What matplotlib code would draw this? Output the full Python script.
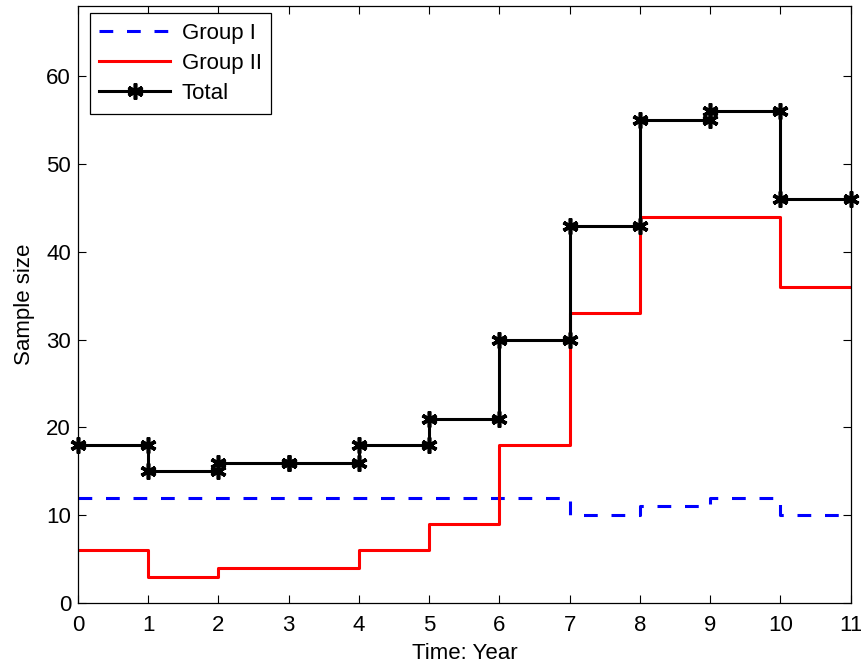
import matplotlib
matplotlib.use('Agg')
import matplotlib.pyplot as plt
import numpy as np

plt.rcParams['font.family'] = ['Liberation Sans', 'DejaVu Sans']

# Datos por año (intervalo [t, t+1])
years = list(range(0, 12))
group1 = [12, 12, 12, 12, 12, 12, 12, 10, 11, 12, 10]
group2 = [6, 3, 4, 4, 6, 9, 18, 33, 44, 44, 36]
total = [a + b for a, b in zip(group1, group2)]


def step_xy(edges, vals):
    xs = np.repeat(edges, 2)[1:-1]
    ys = np.repeat(vals, 2)
    return xs, ys


fig = plt.figure(figsize=(8.61, 6.64), dpi=100)
ax = fig.add_axes([0.0906, 0.0919, 0.8974, 0.899])

x1, y1 = step_xy(years, group1)
x2, y2 = step_xy(years, group2)
xt, yt = step_xy(years, total)

ax.plot(x1, y1, color='#0000ff', lw=2.2, ls=(0, (4.5, 4.5)), label='Group I')
ax.plot(x2, y2, color='#ff0000', lw=2.2, label='Group II')
ax.plot(xt, yt, color='black', lw=2.2, marker=(6, 2, 0), ms=11.5, mew=2.6,
        label='Total', clip_on=False)

ax.set_xlim(0, 11)
ax.set_ylim(0, 68)
ax.set_xticks(range(0, 12))
ax.set_yticks(range(0, 61, 10))
ax.tick_params(direction='in', top=True, right=True, length=5.5, labelsize=16,
               width=0.8)
ax.tick_params(axis='x', pad=9)
ax.tick_params(axis='y', pad=5)
for s in ax.spines.values():
    s.set_linewidth(0.9)

ax.set_xlabel('Time: Year', fontsize=16, labelpad=5)
ax.set_ylabel('Sample size', fontsize=16, labelpad=8)

leg = ax.legend(loc='upper left', bbox_to_anchor=(0.0155, 0.988), borderaxespad=0,
                fontsize=16, handlelength=3.2, fancybox=False,
                edgecolor='black', framealpha=1,
                labelspacing=0.42, borderpad=0.42, handletextpad=0.5)
leg.get_frame().set_linewidth(0.9)

fig.savefig('out.png', dpi=100)
